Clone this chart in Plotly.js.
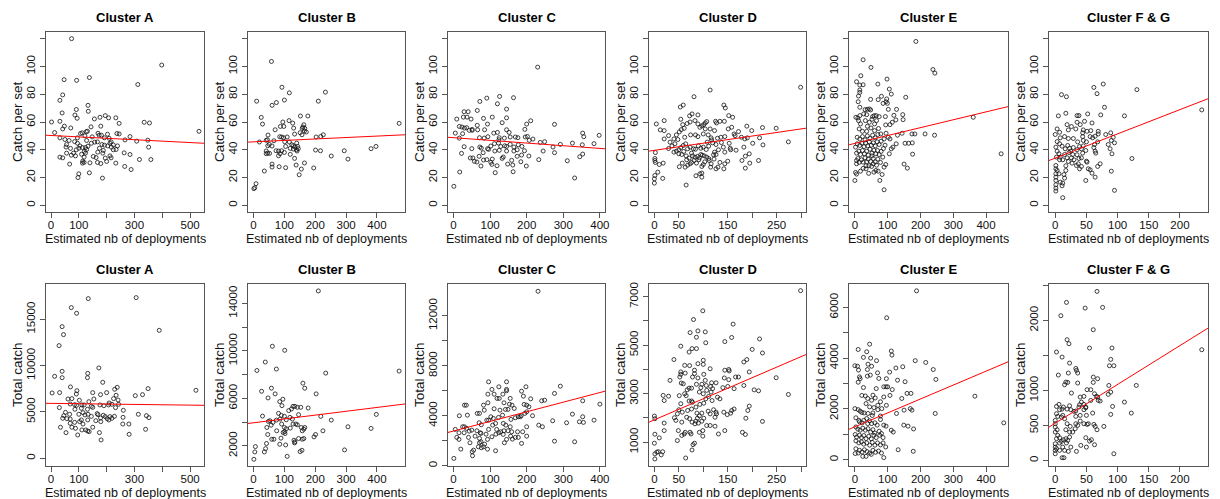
<!DOCTYPE html>
<html>
<head>
<meta charset="utf-8">
<script src="https://cdn.plot.ly/plotly-3.0.1.min.js"></script>
<style>
html,body{margin:0;padding:0;background:#fff}
#chart{width:1220px;height:499px}
</style>
</head>
<body>
<div id="chart"></div>
<script>
"use strict";
/*
	Catch per set and total catch vs estimated nb of deployments, per cluster
	(one [deployments, value] pair per set)
*/
var clusters=['Cluster A','Cluster B','Cluster C','Cluster D','Cluster E','Cluster F & G'];

//catch per set (top row) :
var aCps=[[74,120],[398,101],[312,87],[47,90.5],[92,90],[138,92],[42,79.5],[32,75.6],[133,72],[134,67.7],[40,66.5],[91,69],[86,65],[94,62.7],[2,60],[32,60.5],[48,57],[71,55.7],[42,55],[13,52.4],[32,48.6],[50,47.4],[65,46.7],[56,43.8],[54,42],[70,41],[32,34.7],[42,34.2],[56,37.6],[67,29.7],[100,22.7],[97,20],[138,23.4],[185,19.6],[119,30.9],[114,31.8],[140,30.6],[167,30.9],[179,30.1],[200,31.6],[162,34.4],[152,35.2],[212,35.6],[216,34.2],[186,37.6],[168,38.3],[188,39.5],[224,40],[234,40.2],[239,42.8],[263,37.8],[284,36.6],[265,28],[288,25.8],[318,33],[359,33],[351,41.9],[348,46.9],[308,46.2],[284,49.5],[266,47.1],[335,59.8],[354,59.3],[532,53.3],[245,59],[233,63],[207,63],[195,64.6],[176,63.4],[156,62.2],[179,57],[144,56.5],[148,49.3],[173,50.5],[181,50.5],[203,51.2],[237,51.7],[245,51.4],[209,48.3],[192,48.6],[167,45.7],[157,45.5],[145,44.7],[128,46.7],[122,50],[112,52.2],[106,51.7],[127,53.1],[131,53.3],[95,48.6],[85,45.9],[95,44.7],[104,42.8],[100,41.1],[113,41.6],[124,41.6],[128,40.2],[133,42.6],[120,38.8],[110,36.8],[91,40],[81,37.6],[73,36.1],[88,35.6],[124,37.6],[174,41.1],[183,43.8],[192,43.3],[204,42.8],[217,41.9],[224,43.5],[212,44.7],[216,45.7],[169,51.9],[113,30.4],[119,34.7],[195,34],[233,30.4]];
var bCps=[[58,103.6],[92,85],[116,81],[233,81.5],[10,75],[74,74],[100,75.8],[60,72],[210,75],[25,63.3],[29,58.5],[152,64.3],[176,64.3],[95,60],[115,61],[127,59.2],[87,56.8],[98,56.8],[130,55.6],[163,58],[160,56.4],[472,59],[70,54.4],[158,55.4],[166,55.4],[151,52.3],[157,50.8],[165,53.5],[133,51.3],[218,49.6],[203,49.2],[226,50.8],[47,50.6],[85,49.4],[91,49.2],[97,48.7],[109,49.2],[101,45.8],[66,46.5],[41,46.8],[45,47.2],[51,43.9],[46,42.9],[60,42.7],[104,42.4],[124,43.6],[129,42.9],[134,42],[140,44.8],[143,42.4],[139,40],[145,40.8],[129,40.5],[119,41],[119,36.7],[91,39.3],[81,39.1],[73,39.3],[100,38.1],[41,39.1],[46,37.6],[41,37.2],[52,37.4],[81,35.7],[86,37.2],[141,39.1],[201,39.8],[217,39.3],[252,35.5],[294,39.3],[306,33.3],[381,40.8],[397,42.4],[133,33.8],[138,29],[165,30.5],[155,26.1],[148,22],[195,26.9],[35,24.7],[60,29.7],[60,27.6],[83,27.8],[104,27.1],[4,12.7],[8,15.6],[1,12],[19,45.6],[116,45.6],[171,52.8]];
var cCps=[[230,99.5],[126,78.4],[164,77.5],[91,77.2],[72,74.8],[120,73.1],[145,69.3],[65,68.3],[29,67.4],[40,67.4],[27,63.5],[37,63.5],[106,63.5],[145,63],[48,62.1],[82,62.6],[9,62.1],[211,60.9],[200,58.5],[276,58.3],[93,58.5],[65,57.6],[133,59.5],[16,56.8],[30,55.6],[23,56.4],[36,55.9],[51,54.7],[43,54],[85,54.4],[66,54.4],[145,54.4],[195,54.7],[5,52],[25,51.6],[110,52],[120,52.5],[152,52.5],[94,49.4],[84,48.4],[71,48.7],[16,48.4],[125,48.7],[139,48.4],[155,49.2],[169,49.2],[176,48.7],[196,49.2],[202,49.6],[217,47.7],[237,45.3],[249,45.8],[353,52],[356,49.4],[398,50.4],[384,44.4],[325,44.8],[292,43.9],[272,42],[276,37.9],[352,43.6],[345,35],[353,36.9],[311,32.1],[331,19.7],[233,32.9],[245,39.1],[1,13.7],[17,24],[22,37.4],[29,42.2],[50,40.8],[46,34.1],[53,34.1],[57,31.7],[64,31.2],[70,35.3],[75,28.3],[82,32.6],[91,32.9],[102,31],[105,29.5],[106,33.3],[114,23.5],[119,28.5],[133,33.8],[136,34.8],[148,29.7],[159,32.4],[163,24.2],[162,29],[174,35.3],[186,36.2],[184,31.4],[199,28.3],[206,35.5],[194,39.3],[187,42.4],[177,43.6],[165,42],[155,43.9],[145,42.4],[140,42.9],[129,42.4],[123,44.8],[112,44.4],[102,42.7],[93,40.8],[76,41.2],[72,42],[81,37.9],[96,40.3],[113,39.1],[125,39.6],[145,39.1],[165,39.1],[174,40],[124,47.2],[207,46.8],[51,54]];
var dCps=[[299,85],[114,83],[81,78.2],[142,72.2],[145,70.1],[59,72.2],[53,70.8],[152,64.6],[160,63.4],[54,62],[77,65.8],[72,64.4],[89,65.1],[20,61],[4,58.6],[221,56],[249,55.5],[189,57],[158,56.2],[151,55],[125,60.5],[127,59.3],[134,60.5],[143,60.5],[104,59.3],[101,58.1],[107,60.3],[97,57.2],[89,58.6],[83,61],[73,60],[67,58.9],[58,58.1],[93,56.2],[104,55],[114,55],[123,53.8],[172,53.1],[163,51.4],[61,55.5],[51,52.9],[55,54.5],[12,54.3],[20,53.8],[29,50.2],[20,47.8],[40,47.8],[45,50.7],[32,45.5],[48,47.4],[62,49],[74,50.7],[84,50.7],[89,49.5],[100,51.4],[110,50.7],[116,48.6],[117,47.1],[129,48.3],[136,49],[144,49.5],[178,49],[185,47.8],[190,48.6],[215,48.6],[183,41.9],[201,44.7],[222,43.5],[274,45.7],[167,39.7],[144,38.3],[153,44.7],[155,41.1],[156,40],[126,43.8],[131,40],[123,38.3],[121,36.4],[126,36.6],[111,42.6],[106,40.2],[100,41.9],[95,41.1],[90,42.8],[84,40.4],[80,40.7],[73,41.9],[68,40.7],[64,44.3],[59,43.1],[54,41.6],[50,40],[45,39],[40,38.3],[50,37.1],[56,36.6],[76,37.6],[78,35.6],[83,34.7],[88,35.2],[92,34.2],[95,36.6],[98,36.1],[102,35.6],[107,34.7],[111,33.7],[112,32.3],[81,32.3],[76,30.9],[73,29.9],[68,28.9],[63,27.5],[86,30.4],[97,28],[100,29.4],[116,29.9],[126,26.3],[130,27.5],[134,30.9],[144,29.9],[142,26.3],[150,31.8],[179,32.3],[186,35.4],[194,37.1],[195,30.4],[186,26.8],[213,32.3],[85,21.3],[97,23.2],[97,20.3],[65,14.6],[0,16],[1,21.5],[0,19.1],[7,23.9],[1,32.3],[1,33.7],[2,30.9],[10,29.4],[18,30.4],[17,19.4],[2,38],[51,27.8],[57,30.4],[66,32.8],[71,34],[65,35.6],[29,40.9],[36,42.8],[42,44.3],[60,38.8],[108,45.5],[119,45],[137,45.2],[141,41.9],[165,50.2],[199,53.8],[122,33.3],[103,31.3],[91,32.8],[115,27.5],[93,22.7]];
var eCps=[[186,118],[25,104.8],[49,99.3],[238,97.8],[244,95.2],[98,90.9],[5,89],[18,93.3],[15,86.6],[25,86.8],[70,87.3],[105,83.7],[15,83],[15,81.3],[111,80.1],[11,78.7],[155,77.8],[81,78.5],[97,76.6],[48,76.3],[71,76.1],[95,74.6],[86,73.4],[99,73.4],[10,74.6],[15,70.6],[31,68.9],[38,69.1],[44,69.4],[48,68.7],[102,69.1],[127,69.1],[3,63.4],[9,62.9],[15,64.6],[27,65.8],[36,65.3],[54,63.9],[59,64.6],[65,64.6],[74,63.9],[93,63.9],[119,64.8],[146,65.3],[147,61.7],[125,61.5],[114,59.8],[107,58.1],[94,57.9],[361,63.4],[11,61],[17,58.6],[32,61],[44,59.8],[52,62],[66,61],[60,58.6],[38,56.9],[49,55.7],[72,55.3],[13,55],[23,53.3],[36,53.3],[60,53.8],[79,51.4],[95,51.9],[130,50.5],[144,51.9],[174,51.4],[183,51.4],[214,51.4],[243,50.5],[164,44.7],[153,44.7],[175,45],[446,37.1],[176,36.8],[150,29.7],[160,26.8],[126,44.3],[105,37.1],[116,41.9],[89,11.2],[76,17.9],[0,17.9],[2,23.7],[5,22.5],[17,24.6],[25,26.6],[34,26.3],[43,28.5],[51,28],[42,23],[58,23.9],[64,25.1],[71,24.6],[83,22.2],[89,27.5],[94,29.4],[5,29.9],[5,32.3],[9,33.7],[13,30.9],[20,32.8],[25,31.1],[31,34.2],[36,31.3],[41,33.3],[48,31.6],[56,33.7],[62,31.3],[70,33.3],[78,30.9],[85,34.7],[66,28.9],[56,29.9],[5,37.6],[12,39],[17,36.6],[23,39.5],[29,37.1],[36,39],[41,36.1],[46,40.4],[52,37.6],[58,39.7],[64,37.1],[69,39.5],[74,36.6],[80,38.8],[87,40.9],[92,43.3],[2,41.9],[7,44.3],[15,43.1],[21,44.7],[28,42.3],[33,44.7],[39,42.8],[44,45.7],[50,43.3],[56,45],[62,42.8],[68,45.7],[74,43.8],[80,46.2],[89,47.8],[7,49],[15,47.8],[23,49.5],[31,47.1],[38,50],[46,48.1],[54,50.5],[62,48.6],[70,51],[52,35.6],[34,28.5],[102,49],[107,47.8],[111,40.7]];
var fgCps=[[77,87.3],[62,84.9],[131,83.3],[67,80.4],[10,79.7],[18,78.2],[79,70.6],[235,68.7],[17,66.3],[52,65.8],[35,64.6],[38,64.6],[5,64.4],[111,64.4],[73,65.1],[35,59.8],[47,60.5],[59,59.3],[40,58.1],[19,58.1],[26,56.7],[3,55],[21,54.3],[33,55],[45,54.3],[69,53.3],[69,51.4],[7,52.6],[89,52.2],[44,52.2],[0,51],[8,48.6],[15,49.5],[21,48.1],[29,48.1],[56,49.5],[60,48.6],[64,49.8],[93,49],[90,46.7],[95,45],[45,46.7],[50,45.7],[36,45.7],[85,43.8],[88,40.7],[91,37.1],[63,43.8],[68,45.7],[3,45.9],[7,44.3],[1,41.9],[11,42.6],[16,40.7],[20,43.1],[23,41.1],[25,39],[29,41.6],[35,40],[39,42.3],[42,40.7],[45,42.8],[49,39.5],[62,41.6],[64,39],[65,37.6],[3,39],[6,37.1],[2,34.7],[8,34.7],[12,32.8],[15,36.6],[19,34.2],[21,31.6],[26,34.2],[27,30.4],[30,32.8],[35,36.4],[37,29.9],[42,34.2],[44,37.6],[50,31.8],[51,31.1],[34,28.7],[39,26.3],[42,28],[56,25.6],[53,26.3],[59,23.2],[64,20.3],[68,28],[49,17.9],[90,24.6],[95,10.8],[123,33.7],[1,28.7],[1,26.3],[1,22.7],[1,20.3],[1,17.9],[1,14.8],[1,12.4],[1,10.3],[6,22.7],[8,16.7],[11,14.1],[12,5.5],[12,16],[15,19.6],[14,22.2],[17,25.1],[7,32.8],[3,25.1],[17,28.5],[22,38],[28,36.6],[44,49.5],[51,53.3],[81,51],[72,29.9],[57,53.8],[38,33.7]];

//total catch (bottom row) :
var aTot=[[134,17230],[306,17340],[73,16260],[92,15650],[40,14210],[45,13350],[389,13810],[29,12160],[172,9750],[40,9390],[132,9170],[131,8700],[13,8850],[40,8700],[186,8200],[70,7700],[93,7300],[238,7660],[229,7450],[349,7520],[521,7340],[4,7050],[31,7090],[91,6940],[200,7090],[150,7090],[178,6870],[303,6760],[329,6870],[234,6800],[61,6400],[75,6440],[102,6260],[136,6110],[154,6400],[241,6290],[209,5970],[219,5830],[243,5830],[69,5860],[85,5790],[92,5720],[119,5760],[145,5610],[150,5500],[176,5760],[190,5680],[207,5760],[232,5470],[30,5470],[86,5290],[109,5400],[131,5290],[260,5180],[52,4960],[67,4750],[46,4600],[42,4320],[57,4280],[100,4750],[115,4930],[122,4680],[133,4750],[145,4530],[166,4820],[169,4710],[188,4640],[195,4500],[212,4500],[219,4320],[228,4530],[178,4350],[202,4280],[208,4140],[259,4420],[314,4750],[343,4600],[352,4390],[69,4240],[85,3880],[103,3960],[109,4140],[115,3700],[132,4140],[161,4060],[179,3960],[69,3780],[34,3350],[75,3350],[88,3240],[111,3060],[125,3060],[132,2950],[137,2880],[150,3350],[258,3700],[280,3700],[340,3130],[54,2770],[96,2520],[174,2770],[281,2590],[180,1980],[111,5760],[225,6440]];
var bTot=[[210,15050],[61,10390],[101,10050],[38,9060],[11,8350],[74,8470],[234,8130],[472,8300],[26,6600],[58,6860],[70,6380],[160,7280],[166,6860],[203,6380],[47,6040],[95,5930],[85,5730],[92,5390],[128,5330],[134,5330],[142,5250],[153,5250],[177,5190],[123,5110],[114,4970],[146,4630],[81,4740],[90,4570],[100,4490],[29,4510],[218,4490],[398,4650],[53,4120],[74,4170],[86,4260],[106,4200],[118,4400],[126,4260],[252,4170],[43,3550],[57,3750],[91,3840],[100,3550],[119,3500],[128,3840],[137,3840],[142,3780],[155,3550],[163,3410],[166,3550],[158,3270],[306,3610],[381,3470],[225,3270],[75,3270],[96,3130],[102,3040],[106,3440],[46,2960],[59,2560],[66,2560],[89,2650],[101,3210],[131,2480],[134,2340],[133,2250],[146,2620],[158,2560],[163,2620],[196,2760],[201,2960],[42,2200],[39,1770],[35,1490],[6,1940],[4,1490],[1,870],[85,2140],[104,2080],[109,1120],[151,1520],[157,1630],[295,1660],[63,3980],[48,4060]];
var cTot=[[231,13970],[96,6720],[145,6720],[124,6320],[198,6320],[292,6370],[105,6110],[145,6110],[145,6000],[186,5970],[94,5730],[111,5730],[135,5730],[119,5390],[125,5390],[155,5390],[191,5570],[276,5790],[200,4850],[211,5360],[241,5200],[249,5250],[353,5200],[400,4930],[30,4850],[35,4850],[82,4850],[94,5040],[153,4930],[160,4850],[193,4910],[206,4720],[138,5040],[84,4450],[111,4560],[127,4450],[142,4510],[149,4510],[166,4590],[195,4190],[200,4320],[38,4050],[16,4000],[65,4190],[71,4190],[102,3920],[123,3870],[134,4050],[177,3920],[185,4000],[216,4000],[325,4130],[353,3920],[91,3650],[96,3650],[109,3790],[157,3710],[169,3840],[182,3920],[271,3600],[309,3440],[344,3520],[355,3470],[384,3650],[233,3250],[243,3120],[70,3440],[76,3280],[107,3250],[115,3390],[136,3390],[143,3250],[155,3120],[200,3120],[25,3120],[30,3120],[36,2990],[50,2850],[64,2800],[96,2910],[118,2910],[129,2720],[138,2800],[149,2800],[159,2720],[175,2720],[189,2720],[5,2910],[15,2640],[29,2640],[43,2770],[73,2640],[75,2590],[89,2530],[116,2530],[124,2640],[136,2510],[156,2370],[177,2270],[200,2370],[9,2270],[15,2110],[41,2270],[59,2370],[71,2190],[93,2110],[105,2320],[145,2110],[161,2130],[169,2270],[276,1970],[331,1920],[45,1840],[71,1840],[75,1920],[85,1730],[139,1840],[186,1790],[20,1330],[55,1250],[68,1520],[76,1440],[82,1520],[93,1330],[115,1200],[51,1120],[52,800],[1,590]];
var dTot=[[299,7250],[99,6420],[80,6060],[161,5870],[89,5590],[73,5520],[104,5550],[86,5330],[158,5320],[215,5260],[105,5100],[144,5150],[54,4960],[200,4830],[77,4860],[86,4860],[71,4720],[221,4680],[40,4410],[62,4170],[72,4160],[100,4380],[100,4210],[114,4030],[189,4410],[183,4310],[89,4240],[32,3550],[54,3900],[54,3800],[82,3970],[82,3830],[101,3800],[144,3970],[152,4000],[153,3940],[194,3900],[166,3690],[172,3690],[143,3650],[152,3580],[249,3660],[52,3690],[78,3690],[89,3650],[104,3550],[117,3450],[126,3450],[55,3440],[59,3410],[86,3390],[97,3390],[106,3340],[115,3300],[140,3250],[150,3300],[183,3340],[163,3210],[204,3160],[213,3120],[274,2970],[18,2930],[29,2900],[20,2720],[51,2920],[67,3160],[71,3230],[76,3230],[62,3000],[65,2920],[71,2700],[76,2700],[78,2650],[92,3070],[95,3250],[100,3000],[105,2790],[111,2890],[116,3070],[119,3210],[129,2860],[134,2790],[118,2720],[101,2610],[93,2560],[85,2450],[76,2370],[68,2310],[54,2590],[50,2340],[57,2240],[47,2170],[41,2010],[44,1900],[56,1830],[87,2200],[97,2200],[110,2280],[114,2170],[121,2340],[126,2240],[127,2170],[124,2030],[142,2240],[149,2140],[158,2310],[156,2200],[163,2370],[191,2310],[194,2490],[187,1990],[221,1860],[92,2090],[88,1990],[85,1870],[83,1760],[90,1790],[97,1870],[101,1990],[107,1690],[114,1690],[124,1660],[77,1830],[72,1970],[66,2030],[0,2080],[1,1970],[20,1790],[20,1480],[49,1480],[63,1410],[73,1410],[75,1340],[92,1410],[99,1480],[99,1250],[131,1340],[144,1480],[180,1410],[186,1320],[1,1330],[10,1180],[56,1280],[61,1340],[47,1070],[0,960],[79,900],[82,960],[77,680],[1,520],[5,590],[8,610],[17,610],[14,480],[1,310],[64,350],[107,3140],[63,3850]];
var eTot=[[188,6650],[97,5590],[45,4550],[10,4340],[111,4280],[36,4250],[113,4120],[26,4030],[48,4000],[66,3900],[184,3900],[216,3830],[40,3760],[0,3700],[8,3680],[51,3680],[146,3660],[125,3610],[239,3550],[38,3550],[106,3450],[11,3530],[69,3420],[38,3290],[47,3330],[14,3260],[16,3190],[96,3190],[73,3200],[130,3130],[153,3070],[247,3160],[10,3050],[26,2840],[88,2870],[95,2870],[100,2870],[65,2800],[114,2760],[159,2610],[171,2610],[21,2530],[32,2510],[39,2410],[55,2540],[62,2430],[51,2340],[107,2530],[366,2500],[143,2410],[88,2470],[78,2280],[70,2140],[96,2140],[34,2210],[45,2080],[58,2050],[70,1970],[82,2010],[169,2010],[174,1950],[127,1820],[150,1950],[245,1820],[0,2010],[10,1970],[16,1910],[21,1860],[28,1840],[40,1820],[53,1740],[55,1840],[78,1580],[88,1360],[95,1320],[111,1160],[117,1090],[162,1320],[149,1360],[179,1210],[454,1450],[3,1650],[12,1550],[14,1490],[22,1450],[27,1550],[36,1620],[45,1530],[51,1420],[61,1450],[68,1360],[3,1290],[9,1200],[16,1160],[24,1240],[32,1160],[40,1220],[48,1090],[55,1180],[61,1050],[74,1120],[81,1030],[1,990],[5,890],[14,960],[20,870],[27,950],[34,830],[42,920],[50,820],[58,960],[65,870],[76,960],[86,870],[3,740],[12,660],[20,700],[27,610],[36,660],[45,570],[53,680],[61,570],[69,660],[78,580],[86,660],[94,500],[3,430],[14,370],[22,300],[29,390],[37,320],[45,260],[55,370],[63,290],[72,340],[81,260],[1,240],[10,260],[24,130],[34,130],[50,210],[88,80],[132,390],[178,330],[39,1420],[78,1720]];
var fgTot=[[67,2414],[18,2257],[48,2176],[76,2186],[9,2067],[61,1867],[19,1724],[22,1667],[55,1605],[91,1605],[235,1581],[2,1548],[11,1476],[89,1443],[23,1390],[87,1352],[94,1352],[33,1314],[34,1286],[5,1219],[21,1248],[36,1248],[61,1190],[68,1167],[17,1119],[20,1114],[15,1081],[36,1105],[61,1114],[130,1071],[86,1071],[26,962],[51,1010],[57,1010],[63,952],[68,905],[72,848],[85,943],[89,976],[40,905],[46,914],[42,833],[46,800],[39,795],[38,762],[49,762],[57,857],[66,914],[69,857],[111,833],[92,771],[23,781],[13,762],[6,800],[2,771],[7,724],[11,733],[19,733],[25,724],[30,700],[33,705],[46,724],[49,752],[60,676],[50,643],[40,643],[33,629],[89,657],[122,676],[2,667],[4,629],[10,619],[12,643],[15,595],[51,514],[33,524],[36,500],[40,562],[46,524],[53,524],[62,514],[64,486],[67,438],[78,486],[19,524],[24,486],[17,438],[0,571],[0,524],[0,476],[3,438],[0,405],[23,405],[28,405],[32,452],[4,357],[7,324],[2,310],[13,295],[17,310],[20,286],[23,333],[10,271],[7,248],[18,248],[49,324],[55,276],[58,295],[0,238],[0,190],[2,167],[0,143],[0,95],[12,190],[15,143],[7,143],[25,190],[21,129],[34,129],[41,214],[50,190],[63,224],[11,38],[14,38],[94,95]];

var cpsIntercept=[50.3, 45.7, 48.7, 39.6, 44.6, 34.0];
var cpsSlope=[-0.0102, 0.0104, -0.0193, 0.0514, 0.0567, 0.1745];
var totIntercept=[5928, 3946, 2780, 1923, 1295, 531];
var totSlope=[-0.38, 3.228, 7.7, 8.69, 5.478, 5.545];

//ticks :
var depTicks=[[0,100,200,300,400,500],[0,100,200,300,400],[0,100,200,300,400],[0,50,100,150,200,250,300],[0,100,200,300,400],[0,50,100,150,200]];
var depTickText=[['0','100','','300','','500'],['0','100','200','300','400'],['0','100','200','300','400'],['0','50','','150','','250',''],['0','100','200','300','400'],['0','50','100','150','200']];
var cpsTicks=[0,20,40,60,80,100,120];
var cpsTickText=['0','20','40','60','80','100',''];
var totTicks=[[0,5000,10000,15000],[2000,4000,6000,8000,10000,12000,14000],[0,2000,4000,6000,8000,10000,12000],[1000,2000,3000,4000,5000,6000,7000],[0,1000,2000,3000,4000,5000,6000],[0,500,1000,1500,2000,2500]];
var totTickText=[['0','5000','10000','15000'],['2000','','6000','','10000','','14000'],['0','','4000','','8000','','12000'],['1000','','3000','','5000','','7000'],['0','','2000','','4000','','6000'],['0','500','1000','','2000','']];

//geometry (px of the 1220x499 page) :
var W=1220, H=499;
var colLeft=[46,248,448,649,849,1049], colRight=[204,405,605,806,1008,1208];
var rowTop=[32,284], rowBottom=[212,466];
var depRange=[[-18,550],[-18,491],[-15,414],[-11,310],[-18,467],[-10,245]];
var cpsRange=[-4.8,124.8];
var totRange=[[-830,18810],[306,15634],[-20,14550],[20,7525],[-250,6920],[-80,2520]];

var FONT='Liberation Sans, Arial, sans-serif';
var cpsSets=[aCps,bCps,cCps,dCps,eCps,fgCps];
var totSets=[aTot,bTot,cTot,dTot,eTot,fgTot];

var traces=[], annotations=[];
var layout={
	width: W, height: H,
	margin: {l:0, r:0, t:0, b:0},
	paper_bgcolor: '#fff', plot_bgcolor: '#fff',
	showlegend: false,
	font: {family: FONT, color: '#111'}
};

function px2x(p){ return p/W; }
function px2y(p){ return 1-p/H; }

function addPanel(row, col, pts, yRange, yTicks, yTickText, b0, b1, yTitle){
	var n=row*6+col+1, sfx=(n===1)?'':String(n);
	var xr=depRange[col];

	layout['xaxis'+sfx]={
		domain: [px2x(colLeft[col]), px2x(colRight[col])],
		range: xr, anchor: 'y'+sfx,
		showline: true, mirror: true, linecolor: '#555', linewidth: 1,
		ticks: 'outside', ticklen: 5, tickwidth: 1, tickcolor: '#555',
		tickmode: 'array', tickvals: depTicks[col], ticktext: depTickText[col],
		ticklabelstandoff: -3,
		tickfont: {size: 11.5, family: FONT, color: '#111'},
		showgrid: false, zeroline: false, fixedrange: true
	};
	layout['yaxis'+sfx]={
		domain: [px2y(rowBottom[row]), px2y(rowTop[row])],
		range: yRange, anchor: 'x'+sfx,
		showline: true, mirror: true, linecolor: '#555', linewidth: 1,
		ticks: 'outside', ticklen: 5, tickwidth: 1, tickcolor: '#555',
		tickmode: 'array', tickvals: yTicks, ticktext: yTickText, tickangle: -90,
		tickfont: {size: 11.5, family: FONT, color: '#111'},
		showgrid: false, zeroline: false, fixedrange: true
	};

	traces.push({
		type: 'scatter', mode: 'markers',
		xaxis: 'x'+sfx, yaxis: 'y'+sfx,
		x: pts.map(function(p){ return p[0]; }),
		y: pts.map(function(p){ return p[1]; }),
		marker: {symbol: 'circle-open', size: 4, color: '#111', line: {width: 0.8, color: '#111'}},
		hoverinfo: 'x+y'
	});
	//abline over the whole panel :
	traces.push({
		type: 'scatter', mode: 'lines',
		xaxis: 'x'+sfx, yaxis: 'y'+sfx,
		x: [xr[0], xr[1]],
		y: [b0+b1*xr[0], b0+b1*xr[1]],
		line: {color: '#ff0000', width: 1},
		hoverinfo: 'skip'
	});

	var cx=(colLeft[col]+colRight[col])/2, cy=(rowTop[row]+rowBottom[row])/2;
	annotations.push({ //main title
		text: '<b>'+clusters[col]+'</b>', xref: 'paper', yref: 'paper',
		x: px2x(cx), y: px2y(rowTop[row]-15), xanchor: 'center', yanchor: 'middle',
		showarrow: false, font: {size: 13, family: FONT, color: '#000'}
	});
	annotations.push({ //x label
		text: 'Estimated nb of deployments', xref: 'paper', yref: 'paper',
		x: px2x(cx), y: px2y(rowBottom[row]+27), xanchor: 'center', yanchor: 'middle',
		showarrow: false, font: {size: 12.5, family: FONT, color: '#111'}
	});
	annotations.push({ //y label
		text: yTitle, xref: 'paper', yref: 'paper', textangle: -90,
		x: px2x(colLeft[col]-29), y: px2y(cy), xanchor: 'center', yanchor: 'middle',
		showarrow: false, font: {size: 13.5, family: FONT, color: '#111'}
	});
}

for (var c=0; c<6; c++){
	addPanel(0, c, cpsSets[c], cpsRange, cpsTicks, cpsTickText, cpsIntercept[c], cpsSlope[c], 'Catch per set');
	addPanel(1, c, totSets[c], totRange[c], totTicks[c], totTickText[c], totIntercept[c], totSlope[c], 'Total catch');
}
layout.annotations=annotations;

Plotly.newPlot('chart', traces, layout, {displayModeBar: false, staticPlot: true});
</script>
</body>
</html>
